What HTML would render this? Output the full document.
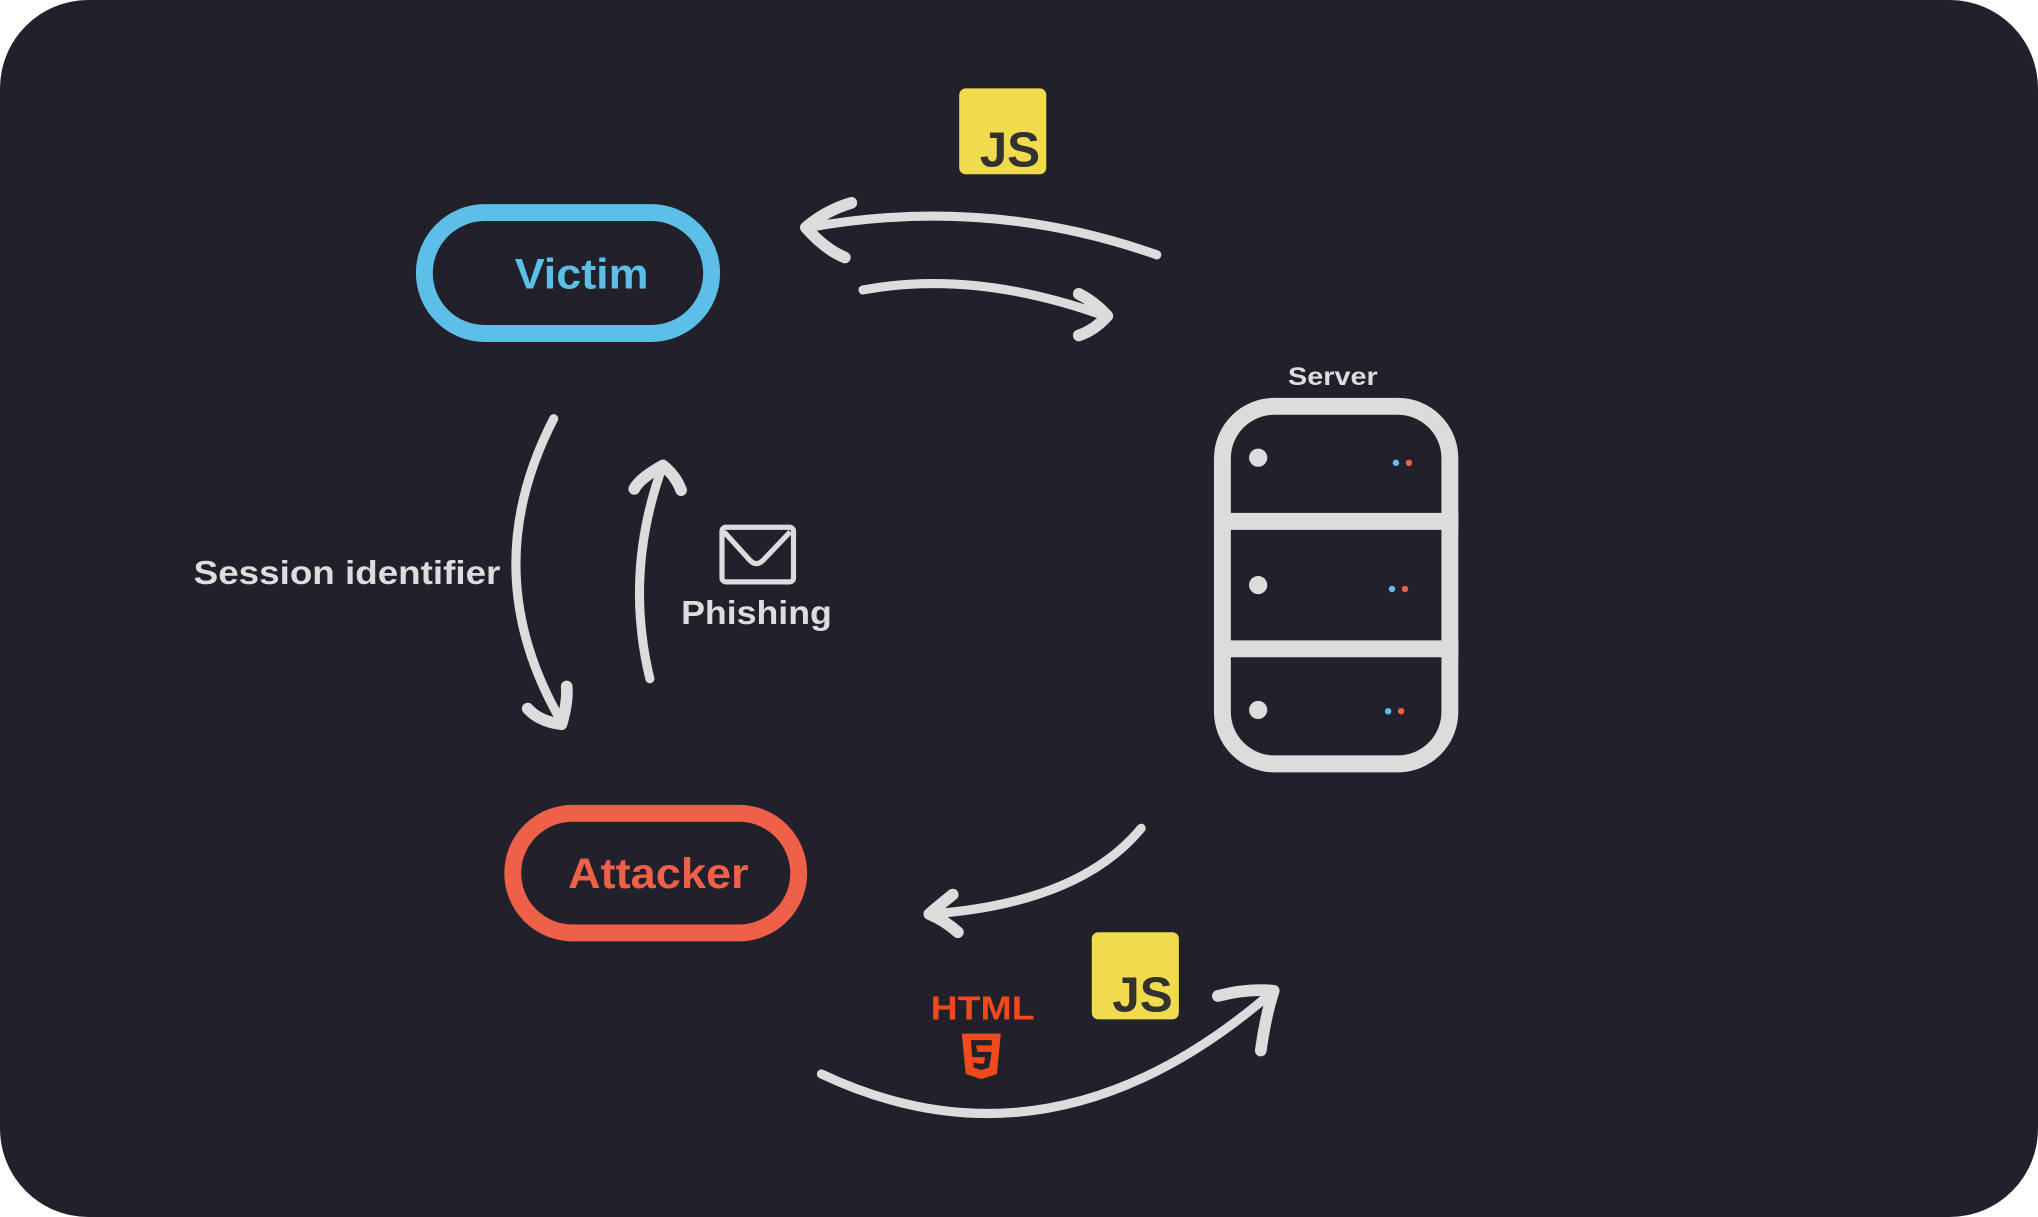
<!DOCTYPE html>
<html><head><meta charset="utf-8"><style>
html,body{margin:0;padding:0;background:#fff;}
svg{display:block;}
text{font-family:"Liberation Sans","DejaVu Sans",sans-serif;font-weight:bold;}
</style></head><body>
<svg width="2038" height="1217" viewBox="0 0 1568 936" preserveAspectRatio="none" xmlns="http://www.w3.org/2000/svg">
<rect x="0" y="0" width="1568" height="936" rx="68" fill="#22212b"/>
<!-- Victim -->
<rect x="326.5" y="163.5" width="221" height="93" rx="46.5" fill="none" stroke="#5bbfe8" stroke-width="13"/>
<text x="396" y="222" font-size="33" fill="#5bbfe8" textLength="103" lengthAdjust="spacingAndGlyphs">Victim</text>
<!-- Attacker -->
<rect x="394.5" y="625.5" width="220" height="92" rx="46" fill="none" stroke="#ee6048" stroke-width="13"/>
<text x="437" y="683" font-size="33" fill="#ee6048" textLength="139" lengthAdjust="spacingAndGlyphs">Attacker</text>
<!-- JS boxes -->
<rect x="738" y="68" width="67" height="66" rx="5" fill="#f0db4f"/>
<text x="777" y="128" font-size="38" fill="#323330" text-anchor="middle">JS</text>
<rect x="840" y="717" width="67" height="67" rx="5" fill="#f0db4f"/>
<text x="879" y="778" font-size="38" fill="#323330" text-anchor="middle">JS</text>
<!-- Server -->
<text x="991" y="296" font-size="19" fill="#dddddd" textLength="69" lengthAdjust="spacingAndGlyphs">Server</text>
<rect x="940.5" y="312.5" width="175" height="275" rx="40" fill="none" stroke="#dcdcdc" stroke-width="13"/>
<line x1="934" y1="401" x2="1122" y2="401" stroke="#dcdcdc" stroke-width="13"/>
<line x1="934" y1="499" x2="1122" y2="499" stroke="#dcdcdc" stroke-width="13"/>
<circle cx="968" cy="352" r="7" fill="#dcdcdc"/>
<circle cx="968" cy="450" r="7" fill="#dcdcdc"/>
<circle cx="968" cy="546" r="7" fill="#dcdcdc"/>
<circle cx="1074" cy="356" r="2.5" fill="#5bbfe8"/><circle cx="1084" cy="356" r="2.5" fill="#ee6048"/>
<circle cx="1071" cy="453" r="2.5" fill="#5bbfe8"/><circle cx="1081" cy="453" r="2.5" fill="#ee6048"/>
<circle cx="1068" cy="547" r="2.5" fill="#5bbfe8"/><circle cx="1078" cy="547" r="2.5" fill="#ee6048"/>
<!-- arrows -->
<g fill="none" stroke="#dcdcdc" stroke-width="7" stroke-linecap="round" stroke-linejoin="round">
<path d="M890 196 Q760 150 622 175"/>
<path d="M655 156 Q635 162 620 175 Q635 192 650 198" stroke-width="9"/>
<path d="M664 223 Q750 207 850 243"/>
<path d="M830 226 Q842 232 852 243 Q842 254 830 258" stroke-width="9"/>
<path d="M426 322 Q365 440 432 555"/>
<path d="M406 545 Q415 555 432 557 Q437 540 436 528" stroke-width="9"/>
<path d="M500 522 Q480 440 510 358"/>
<path d="M488 376 Q492 368 510 358 Q520 366 524 377" stroke-width="9"/>
<path d="M878 637 Q830 695 715 703"/>
<path d="M733 688 Q718 700 715 703 Q727 708 737 717" stroke-width="9"/>
<path d="M632 826 Q810 910 980 762"/>
<path d="M937 766 Q960 760 980 762 Q974 780 970 808" stroke-width="9"/>
</g>
<!-- mail icon -->
<rect x="555.5" y="405.5" width="55" height="42" rx="3" fill="none" stroke="#dcdcdc" stroke-width="4"/>
<path d="M557 409 L577 431 Q582 436 587 431 L608 409" fill="none" stroke="#dcdcdc" stroke-width="4" stroke-linejoin="round"/>
<text x="524" y="480" font-size="26" fill="#dddddd" textLength="116" lengthAdjust="spacingAndGlyphs">Phishing</text>
<text x="149" y="449" font-size="26" fill="#dddddd" textLength="236" lengthAdjust="spacingAndGlyphs">Session identifier</text>
<!-- HTML -->
<text x="716" y="784" font-size="26" fill="#f04a1c" textLength="80" lengthAdjust="spacingAndGlyphs">HTML</text>
<path d="M740 795 L770 795 L767 826 L755 830 L743 826 Z" fill="#f04a1c"/>
<path d="M747 800 L763 800 L763 804 L751 804 L752 809 L763 809 L761 821 L755 823 L749 821 L749 817 L753 818 L757 818 L758 813 L748 813 Z" fill="#22212b"/>
</svg>
</body></html>
